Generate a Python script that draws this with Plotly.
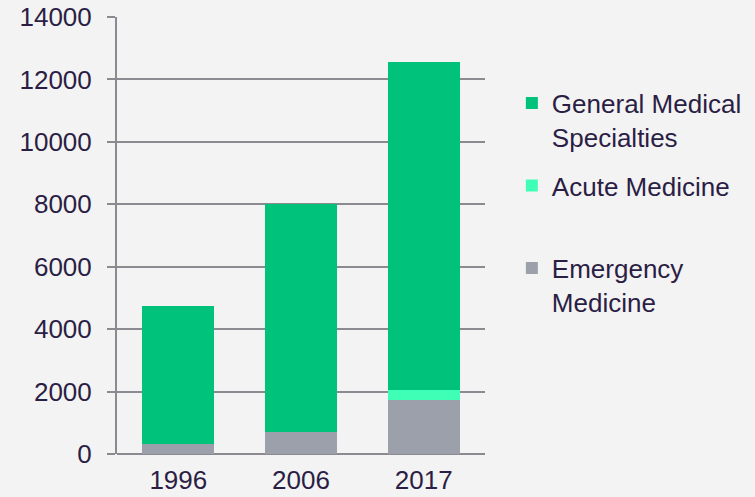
import plotly.graph_objects as go

years = ["1996", "2006", "2017"]
emergency = [320, 705, 1730]
acute = [0, 0, 320]
general = [4420, 7295, 10510]

series_names = ["Emergency<br>Medicine", "Acute Medicine<br> ", "General Medical<br>Specialties"]
series_colors = ["#9CA0AB", "#3FFFB6", "#00C27A"]
series_values = [emergency, acute, general]
legend_ranks = [3, 2, 1]

text_color = "#2B1E45"
grid_color = "#8C8A91"
font_family = "Liberation Sans, Arial, sans-serif"

fig = go.Figure()
for name, color, vals, rank in zip(series_names, series_colors, series_values, legend_ranks):
    fig.add_trace(go.Bar(
        x=years, y=vals, name=name, marker=dict(color=color, line=dict(width=0)),
        legendgroup=name, legendrank=rank,
    ))

fig.update_layout(
    width=755, height=497,
    barmode="stack", bargap=0.413,
    paper_bgcolor="#F3F3F3", plot_bgcolor="#F3F3F3",
    margin=dict(l=117, r=270, t=17, b=43, autoexpand=False),
    font=dict(family=font_family, size=26, color=text_color),
    legend=dict(
        x=1.073, y=0.857, xanchor="left", yanchor="top",
        traceorder="grouped", valign="top",
        font=dict(size=26, color=text_color),
        tracegroupgap=12, bgcolor="rgba(0,0,0,0)",
    ),
    xaxis=dict(
        showgrid=False, showline=False, ticks="", ticklabelstandoff=8,
        tickfont=dict(size=26, color=text_color),
    ),
    yaxis=dict(
        range=[0, 14000], dtick=2000, tickformat="d",
        showgrid=True, gridcolor=grid_color, gridwidth=2,
        zeroline=True, zerolinecolor=grid_color, zerolinewidth=2,
        showline=True, linecolor=grid_color, linewidth=2,
        ticks="outside", ticklen=8, tickcolor=grid_color, tickwidth=2,
        ticklabelstandoff=10,
        tickfont=dict(size=26, color=text_color),
    ),
)

fig.write_html(
    "out.html",
    config={"displayModeBar": False},
    post_script="document.body.style.margin='0';document.body.style.background='#F3F3F3';",
)
